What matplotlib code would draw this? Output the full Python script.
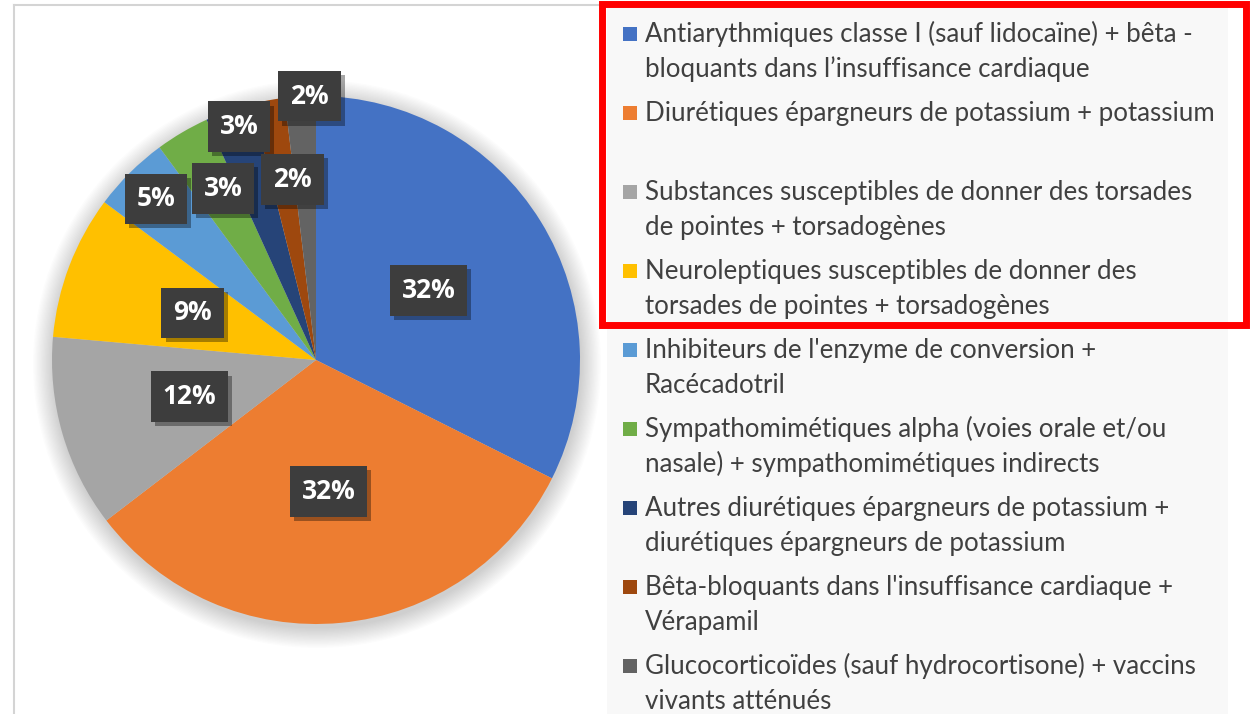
import matplotlib
matplotlib.use("Agg")
import matplotlib.pyplot as plt
import matplotlib.patheffects as pe
from matplotlib.patches import Rectangle, Circle
import numpy as np

# data (percent of interactions)
categories = [
    "Antiarythmiques classe I (sauf lidocaïne) + bêta -\nbloquants dans l\u2019insuffisance cardiaque",
    "Diurétiques épargneurs de potassium + potassium",
    "Substances susceptibles de donner des torsades\nde pointes + torsadogènes",
    "Neuroleptiques susceptibles de donner des\ntorsades de pointes + torsadogènes",
    "Inhibiteurs de l'enzyme de conversion +\nRacécadotril",
    "Sympathomimétiques alpha (voies orale et/ou\nnasale) + sympathomimétiques indirects",
    "Autres diurétiques épargneurs de potassium +\ndiurétiques épargneurs de potassium",
    "Bêta-bloquants dans l'insuffisance cardiaque +\nVérapamil",
    "Glucocorticoïdes (sauf hydrocortisone) + vaccins\nvivants atténués",
]
shares = [32.4, 32.2, 11.8, 8.8, 4.7, 3.3, 2.9, 2.0, 1.9]

colors = ["#4472C4", "#ED7D31", "#A5A5A5", "#FFC000", "#5B9BD5",
          "#70AD47", "#264478", "#9E480E", "#636363"]
# where each data label sits: fraction of radius, nudge in degrees
label_dist = [0.5, 0.5, 0.5, 0.5, 0.86, 0.74, 0.93, 0.69, 1.0]
label_nudge = [0, 0, 0, 0, 0, -2, -1, -3, -2]

W, H = 1251, 714
fig = plt.figure(figsize=(W / 100, H / 100), dpi=100)
fig.patch.set_facecolor("white")
ax = fig.add_axes([0, 0, 1, 1])

cx, cy, r = 316, H - 360, 264

# soft shadow round the pie
for i in range(16):
    ax.add_patch(Circle((cx + 1, cy - 4), r + 20 - i * 1.3, color="black",
                        alpha=0.011, lw=0, zorder=1))

wedges, _ = ax.pie(shares, colors=colors, startangle=90, counterclock=False,
                   center=(cx, cy), radius=r,
                   wedgeprops=dict(linewidth=0, zorder=2))

for w, s, d, nd in zip(wedges, shares, label_dist, label_nudge):
    th = np.deg2rad((w.theta1 + w.theta2) / 2 + nd)
    x = cx + d * r * np.cos(th)
    y = cy + d * r * np.sin(th)
    t = ax.text(x, y, f"{round(s):.0f}%", ha="center", va="center",
                color="white", fontsize=19, fontweight="bold",
                family="Open Sans", zorder=5,
                bbox=dict(boxstyle="square,pad=0.45", fc="#3d3d3d", ec="none"))
    t.get_bbox_patch().set_path_effects([
        pe.withSimplePatchShadow(offset=(3, -3), shadow_rgbFace="black", alpha=0.35)])

# chart area border
ax.plot([14, 14], [0, H - 5], color="#d4d4d4", lw=1.5, zorder=0)
ax.plot([14, 607], [H - 5, H - 5], color="#d4d4d4", lw=1.5, zorder=0)

# legend panel
ax.add_patch(Rectangle((607, 0), 621, H - 8, fc="#f8f8f8", ec="none", zorder=3))
for i, (lab, col) in enumerate(zip(categories, colors)):
    base = 42 + i * 79
    ax.add_patch(Rectangle((623, H - base + 1), 14, 14, fc=col, ec="none", zorder=4))
    for k, line in enumerate(lab.split("\n")):
        ax.text(645, H - (base + k * 35), line, ha="left", va="baseline",
                fontsize=18.6, family="Lato", color="#404040", zorder=4)

# red highlight box
ax.add_patch(Rectangle((601.5, H - 325), 644, 321.5, fill=False,
                       ec="#ff0000", lw=5, zorder=6))

ax.set_xlim(0, W)
ax.set_ylim(0, H)
ax.set_aspect("auto")
ax.axis("off")

fig.savefig("out.png", dpi=100)
